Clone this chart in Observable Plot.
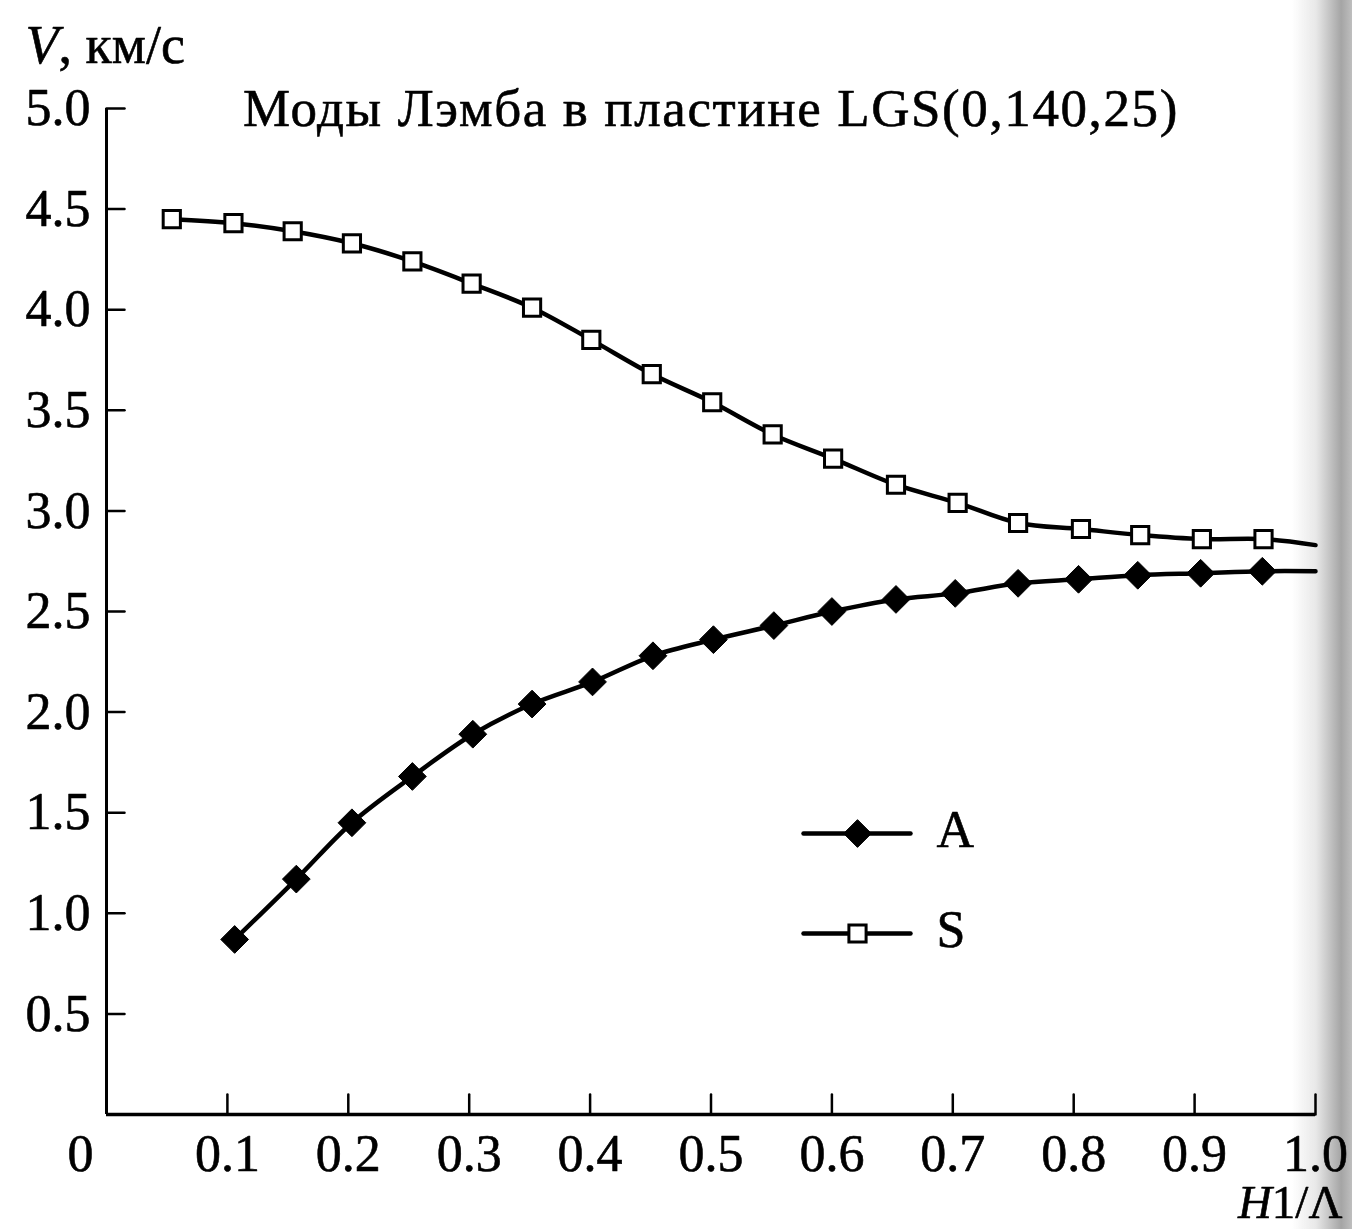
<!DOCTYPE html>
<html>
<head>
<meta charset="utf-8">
<script src="https://cdn.jsdelivr.net/npm/d3@7"></script>
<script src="https://cdn.jsdelivr.net/npm/@observablehq/plot@0.6"></script>
<style>
  html, body { margin: 0; padding: 0; background: #fff; }
  #wrap { position: relative; width: 1352px; height: 1229px; overflow: hidden; }
  #edge { position: absolute; top: 0; right: 0; width: 60px; height: 1229px; pointer-events: none;
          mix-blend-mode: multiply;
          background: linear-gradient(to right, rgba(255,255,255,0) 0%, rgba(232,232,232,1) 40%, rgba(165,165,165,1) 82%, rgba(190,190,190,1) 100%); }
</style>
</head>
<body>
<div id="wrap"><div id="edge"></div></div>
<script>
// Lamb modes in an LGS plate: phase velocity V (km/s) vs. H1/Λ
const title = "Моды Лэмба в пластине LGS(0,140,25)";
const seriesNames = ["A", "S"];

// Antisymmetric mode (last point is the end of the curve, drawn without a marker)
const aX = [0.106, 0.157, 0.203, 0.253, 0.303, 0.352, 0.402, 0.452, 0.502, 0.552, 0.600, 0.653, 0.702, 0.754, 0.804, 0.853, 0.905, 0.956, 1.0];
const aV = [0.87, 1.17, 1.45, 1.68, 1.89, 2.04, 2.15, 2.28, 2.36, 2.43, 2.50, 2.56, 2.59, 2.64, 2.66, 2.68, 2.69, 2.70, 2.70];

// Symmetric mode
const sX = [0.054, 0.105, 0.154, 0.203, 0.253, 0.302, 0.352, 0.401, 0.451, 0.501, 0.551, 0.601, 0.653, 0.704, 0.754, 0.806, 0.855, 0.906, 0.957, 1.0];
const sV = [4.45, 4.43, 4.39, 4.33, 4.24, 4.13, 4.01, 3.85, 3.68, 3.54, 3.38, 3.26, 3.13, 3.04, 2.94, 2.91, 2.88, 2.86, 2.86, 2.83];

const xTicks = [0.1, 0.2, 0.3, 0.4, 0.5, 0.6, 0.7, 0.8, 0.9, 1.0];
const yTicks = [0.5, 1.0, 1.5, 2.0, 2.5, 3.0, 3.5, 4.0, 4.5, 5.0];

const aData = aX.map((x, i) => ({x, v: aV[i], marker: x < 1}));
const sData = sX.map((x, i) => ({x, v: sV[i], marker: x < 1}));

// straight tick stroke for vector marks
const stick = {draw(context, l) { context.moveTo(0, 0); context.lineTo(0, -l); }};

const FONT = 52;
const serif = "'Liberation Serif', 'DejaVu Serif', serif";
// a thin outline thickens the serif glyphs slightly
const ink = {fill: "black", stroke: "black", strokeWidth: 0.6};

const legendRows = [
  {name: seriesNames[0], dy: 725, dot: {symbol: "diamond2", r: 12.5, fill: "black", stroke: "black", strokeWidth: 1}},
  {name: seriesNames[1], dy: 825, dot: {symbol: "square", r: 9.7, fill: "white", stroke: "black", strokeWidth: 3}}
];

const chart = Plot.plot({
  width: 1352,
  height: 1229,
  marginLeft: 106,
  marginRight: 37,
  marginTop: 108,
  marginBottom: 115,
  x: {domain: [0, 1], axis: null},
  y: {domain: [0, 5], axis: null},
  style: {fontFamily: serif, fontSize: FONT + "px", background: "white", color: "black"},
  marks: [
    // axis lines
    Plot.ruleX([0], {stroke: "black", strokeWidth: 3}),
    Plot.ruleY([0], {stroke: "black", strokeWidth: 3.5}),
    // inward tick marks
    Plot.vector(xTicks, {x: d => d, y: 0, length: 20, rotate: 0, anchor: "start", shape: stick, stroke: "black", strokeWidth: 2.5}),
    Plot.vector(yTicks, {x: 0, y: d => d, length: 18, rotate: 90, anchor: "start", shape: stick, stroke: "black", strokeWidth: 2.5}),
    // tick labels
    Plot.text(xTicks, {x: d => d, y: 0, text: d => d.toFixed(1), lineAnchor: "top", dy: 20, fontSize: FONT, ...ink}),
    Plot.text([0], {x: 0, y: 0, text: d => String(d), lineAnchor: "top", dy: 20, dx: -26, fontSize: FONT, ...ink}),
    Plot.text(yTicks, {x: 0, y: d => d, text: d => d.toFixed(1), textAnchor: "end", lineAnchor: "middle", dx: -16, fontSize: FONT, ...ink}),
    // title inside the frame
    Plot.text([title], {frameAnchor: "top", text: d => d, lineAnchor: "top", dy: -20, fontSize: 53, ...ink, className: "title"}),
    // axis titles
    Plot.text(["V, км/с"], {frameAnchor: "top-left", text: d => d, textAnchor: "start", lineAnchor: "bottom", dx: -81, dy: -46, fontSize: 54, ...ink, className: "ylab"}),
    Plot.text(["H1/Λ"], {frameAnchor: "bottom-right", text: d => d, textAnchor: "end", lineAnchor: "bottom", dx: 27, dy: 103, fontSize: 47, ...ink, className: "xlab"}),
    // curves
    Plot.line(sData, {x: "x", y: "v", curve: "catmull-rom", stroke: "black", strokeWidth: 4.5}),
    Plot.line(aData, {x: "x", y: "v", curve: "catmull-rom", stroke: "black", strokeWidth: 4.5}),
    Plot.dot(sData.filter(d => d.marker), {x: "x", y: "v", symbol: "square", r: 9.7, fill: "white", stroke: "black", strokeWidth: 3}),
    Plot.dot(aData.filter(d => d.marker), {x: "x", y: "v", symbol: "diamond2", r: 12.5, fill: "black", stroke: "black", strokeWidth: 1}),
    // legend
    ...legendRows.flatMap(row => [
      Plot.vector([row.name], {frameAnchor: "top-left", dx: 697, dy: row.dy, length: 107, rotate: 90, anchor: "start", shape: stick, stroke: "black", strokeWidth: 4.5}),
      Plot.dot([row.name], {frameAnchor: "top-left", dx: 751, dy: row.dy, ...row.dot}),
      Plot.text([row.name], {frameAnchor: "top-left", text: d => d, textAnchor: "start", lineAnchor: "middle", dx: 830, dy: row.dy - 3, fontSize: FONT, ...ink})
    ])
  ]
});

document.getElementById("wrap").prepend(chart);

// spread the title letters slightly
const titleText = chart.querySelector(".title text");
if (titleText) titleText.setAttribute("letter-spacing", "1.6");

// italic variable names in the axis titles
const ylab = chart.querySelector(".ylab text");
if (ylab) ylab.innerHTML = '<tspan font-style="italic">V</tspan>, км/с';
const xlab = chart.querySelector(".xlab text");
if (xlab) xlab.innerHTML = '<tspan font-style="italic">H</tspan>1/Λ';
</script>
</body>
</html>
